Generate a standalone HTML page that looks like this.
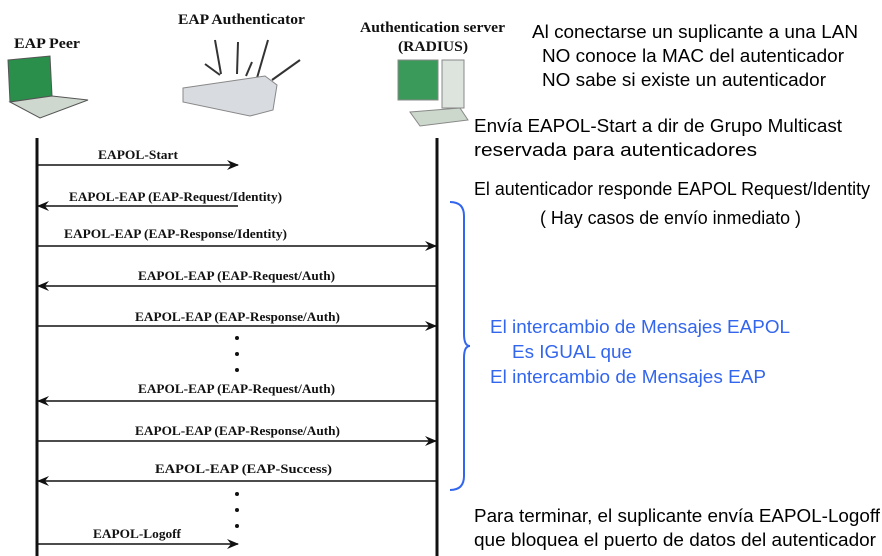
<!DOCTYPE html>
<html><head><meta charset="utf-8"><style>
body{margin:0;background:#fff;width:882px;height:556px;overflow:hidden}
svg{display:block}
.s{font-family:"Liberation Serif",serif;font-weight:bold;font-size:13px;fill:#111}
.h{font-family:"Liberation Serif",serif;font-weight:bold;font-size:15px;fill:#111}
.t{font-family:"Liberation Sans",sans-serif;font-size:18.5px;fill:#000}
.b{font-family:"Liberation Sans",sans-serif;font-size:18.5px;fill:#3366ee}
</style></head><body>
<svg width="882" height="556" viewBox="0 0 882 556">
<defs><marker id="a" markerWidth="12" markerHeight="10" refX="11" refY="5" orient="auto" markerUnits="userSpaceOnUse"><path d="M0,0 L12,5 L0,10 L4,5z" fill="#111"/></marker></defs>
<text class="h" x="14" y="48" textLength="66" lengthAdjust="spacingAndGlyphs">EAP Peer</text>
<text class="h" x="178" y="24" textLength="127" lengthAdjust="spacingAndGlyphs">EAP Authenticator</text>
<text class="h" x="360" y="32" textLength="145" lengthAdjust="spacingAndGlyphs">Authentication server</text>
<text class="h" x="398" y="51" textLength="70" lengthAdjust="spacingAndGlyphs">(RADIUS)</text>
<!-- laptop -->
<polygon points="8,60 50,56 52,96 10,102" fill="#2a8f4a" stroke="#555"/>
<polygon points="10,102 52,96 88,100 40,118" fill="#cfd8cf" stroke="#555"/>
<!-- router -->
<g stroke="#333" stroke-width="2"><line x1="205" y1="64" x2="220" y2="75"/><line x1="215" y1="40" x2="221" y2="74"/><line x1="238" y1="42" x2="237" y2="74"/><line x1="268" y1="40" x2="257" y2="78"/><line x1="300" y1="60" x2="272" y2="80"/><line x1="252" y1="62" x2="246" y2="76"/></g>
<polygon points="183,88 265,76 277,85 273,110 250,116 183,102" fill="#d8dbe0" stroke="#888"/>
<!-- server -->
<rect x="398" y="60" width="40" height="40" fill="#3a9a5a" stroke="#888"/>
<rect x="442" y="60" width="22" height="48" fill="#dde4dd" stroke="#888"/>
<polygon points="410,112 460,108 468,120 420,126" fill="#ccd8cc" stroke="#888"/>
<!-- lifelines -->
<line x1="37" y1="138" x2="37" y2="556" stroke="#111" stroke-width="3"/>
<line x1="437" y1="138" x2="437" y2="556" stroke="#111" stroke-width="3"/>
<g stroke="#111" stroke-width="1.5" fill="none">
<line x1="38" y1="165" x2="238" y2="165" marker-end="url(#a)"/>
<line x1="238" y1="206" x2="38" y2="206" marker-end="url(#a)"/>
<line x1="38" y1="246" x2="436" y2="246" marker-end="url(#a)"/>
<line x1="436" y1="286" x2="38" y2="286" marker-end="url(#a)"/>
<line x1="38" y1="326" x2="436" y2="326" marker-end="url(#a)"/>
<line x1="436" y1="401" x2="38" y2="401" marker-end="url(#a)"/>
<line x1="38" y1="441" x2="436" y2="441" marker-end="url(#a)"/>
<line x1="436" y1="481" x2="38" y2="481" marker-end="url(#a)"/>
<line x1="38" y1="544" x2="238" y2="544" marker-end="url(#a)"/>
</g>
<g fill="#111"><circle cx="237" cy="338" r="2"/><circle cx="237" cy="354" r="2"/><circle cx="237" cy="370" r="2"/><circle cx="237" cy="494" r="2"/><circle cx="237" cy="510" r="2"/><circle cx="237" cy="526" r="2"/></g>
<text class="s" x="98" y="159" textLength="80" lengthAdjust="spacingAndGlyphs">EAPOL-Start</text>
<text class="s" x="69" y="201" textLength="213" lengthAdjust="spacingAndGlyphs">EAPOL-EAP (EAP-Request/Identity)</text>
<text class="s" x="64" y="238" textLength="223" lengthAdjust="spacingAndGlyphs">EAPOL-EAP (EAP-Response/Identity)</text>
<text class="s" x="138" y="280" textLength="197" lengthAdjust="spacingAndGlyphs">EAPOL-EAP (EAP-Request/Auth)</text>
<text class="s" x="135" y="321" textLength="205" lengthAdjust="spacingAndGlyphs">EAPOL-EAP (EAP-Response/Auth)</text>
<text class="s" x="138" y="393" textLength="197" lengthAdjust="spacingAndGlyphs">EAPOL-EAP (EAP-Request/Auth)</text>
<text class="s" x="135" y="435" textLength="205" lengthAdjust="spacingAndGlyphs">EAPOL-EAP (EAP-Response/Auth)</text>
<text class="s" x="155" y="473" textLength="177" lengthAdjust="spacingAndGlyphs">EAPOL-EAP (EAP-Success)</text>
<text class="s" x="93" y="538" textLength="88" lengthAdjust="spacingAndGlyphs">EAPOL-Logoff</text>
<path d="M450,202 Q464,202 464,216 L464,334 Q464,346 470,346 Q464,346 464,358 L464,476 Q464,490 450,490" fill="none" stroke="#3366ee" stroke-width="2"/>
<text class="t" x="532" y="38" textLength="326" lengthAdjust="spacingAndGlyphs">Al conectarse un suplicante a una LAN</text>
<text class="t" x="542" y="62" textLength="302" lengthAdjust="spacingAndGlyphs">NO conoce la MAC del autenticador</text>
<text class="t" x="542" y="86" textLength="284" lengthAdjust="spacingAndGlyphs">NO sabe si existe un autenticador</text>
<text class="t" x="474" y="132" textLength="368" lengthAdjust="spacingAndGlyphs">Envía EAPOL-Start a dir de Grupo Multicast</text>
<text class="t" x="474" y="156" textLength="283" lengthAdjust="spacingAndGlyphs">reservada para autenticadores</text>
<text class="t" x="474" y="195" textLength="396" lengthAdjust="spacingAndGlyphs">El autenticador responde EAPOL Request/Identity</text>
<text class="t" x="540" y="224" textLength="261" lengthAdjust="spacingAndGlyphs">( Hay casos de envío inmediato )</text>
<text class="b" x="490" y="333" textLength="300" lengthAdjust="spacingAndGlyphs">El intercambio de Mensajes EAPOL</text>
<text class="b" x="512" y="358" textLength="120" lengthAdjust="spacingAndGlyphs">Es IGUAL que</text>
<text class="b" x="490" y="383" textLength="276" lengthAdjust="spacingAndGlyphs">El intercambio de Mensajes EAP</text>
<text class="t" x="474" y="522" textLength="406" lengthAdjust="spacingAndGlyphs">Para terminar, el suplicante envía EAPOL-Logoff</text>
<text class="t" x="474" y="546" textLength="402" lengthAdjust="spacingAndGlyphs">que bloquea el puerto de datos del autenticador</text>
</svg>
</body></html>
